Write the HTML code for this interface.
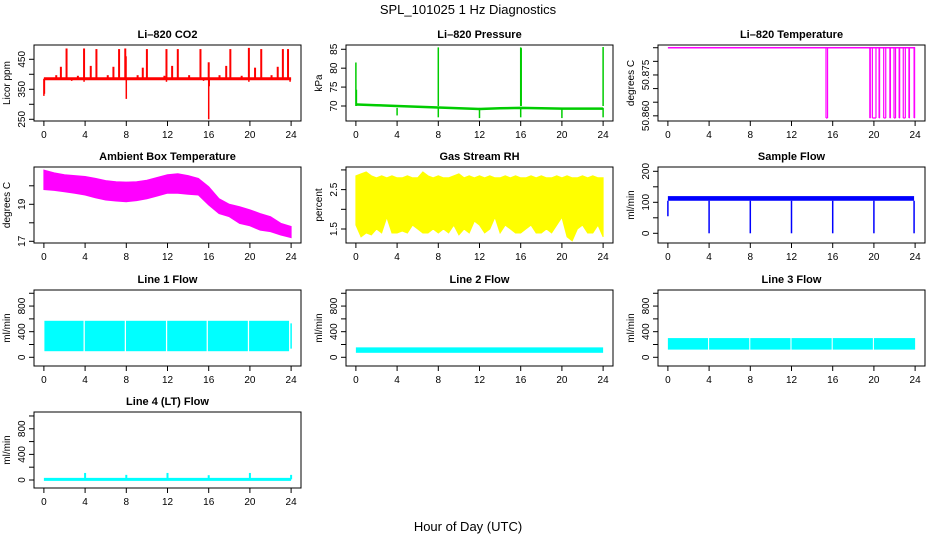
<!DOCTYPE html>
<html><head><meta charset="utf-8">
<style>
html,body{margin:0;padding:0;background:#fff;}
svg{display:block;font-family:"Liberation Sans",sans-serif;}
</style></head>
<body>
<svg id="chart" width="936" height="540" viewBox="0 0 936 540" xmlns="http://www.w3.org/2000/svg">
<text x="468" y="14" text-anchor="middle" font-size="13">SPL_101025  1 Hz Diagnostics</text>
<text x="468" y="531" text-anchor="middle" font-size="13">Hour of Day (UTC)</text>
</svg>
<script>
// ---- data ----
const hourTicks = [0,4,8,12,16,20,24];
const hours = [0,1,2,3,4,5,6,7,8,9,10,11,12,13,14,15,16,17,18,19,20,21,22,23,24];
// CO2
const co2Base = 385;
const co2SpikeHours = [2.2,3.9,5.1,7.3,7.9,10.0,11.9,13.0,15.2,18.1,19.9,21.1,23.2,23.7,1.65,4.55,6.75,9.6,12.45,17.7,20.5,22.7,1.2,3.3,6.2,9.1,11.7,14.1,17.05,19.2,22.1,16.0,7.95];
const co2SpikeVals  = [486,486,484,484,486,484,484,484,484,484,488,484,484,484,425,428,425,422,428,428,422,425,397,395,397,397,395,397,397,395,397,440,460];
const co2DipHours = [0,0.05,8.0,16.0,16.05,23.9,2.7,3.9,11.9,15.5,19.9];
const co2DipVals  = [328,335,318,250,360,375,378,375,375,378,375];
// Pressure
const presHours = [0,0.1,2,4,6,8,10,12,14,16,18,20,22,24];
const presBase  = [70.4,70.4,70.2,70.0,69.8,69.6,69.4,69.2,69.4,69.5,69.4,69.3,69.3,69.3];
const presSpikeHours = [0,0.05,8,16,16.05,24];
const presSpikeVals  = [81.5,74.3,85.5,85.5,85.3,85.6];
const presDipHours = [4,8,12,16,20,24];
const presDipVals  = [67.5,67.0,66.8,67.0,66.8,67.0];
// Li-820 temperature
const tempTop = 50.885;
const tempLow = 50.8592;
const tempDropStart = [15.35,19.6,19.85,20.5,20.95,21.55,21.95,22.45,22.85,23.4,23.9];
const tempDropEnd   = [15.5,19.65,20.2,20.55,21.15,21.6,22.1,22.5,23.05,23.45,23.95];
// Ambient box temperature
const ambHi = [20.85,20.7,20.6,20.55,20.5,20.4,20.28,20.22,20.2,20.22,20.3,20.45,20.6,20.65,20.55,20.4,19.95,19.3,19.0,18.87,18.7,18.5,18.33,17.97,17.8];
const ambLo = [19.8,19.75,19.68,19.6,19.5,19.35,19.23,19.18,19.14,19.2,19.3,19.45,19.6,19.6,19.54,19.5,18.96,18.5,18.33,17.97,17.84,17.6,17.52,17.34,17.2];
// Gas stream RH
const rhHours = [0,0.5,1,1.5,2,2.5,3,3.5,4,4.5,5,5.5,6,6.5,7,7.5,8,8.5,9,9.5,10,10.5,11,11.5,12,12.5,13,13.5,14,14.5,15,15.5,16,16.5,17,17.5,18,18.5,19,19.5,20,20.5,21,21.5,22,22.5,23,23.5,24];
const rhHi = [2.85,2.9,2.95,2.85,2.8,2.85,2.8,2.85,2.8,2.8,2.85,2.8,2.8,2.95,2.85,2.8,2.85,2.8,2.8,2.85,2.9,2.8,2.85,2.8,2.85,2.8,2.85,2.8,2.8,2.85,2.8,2.85,2.8,2.8,2.85,2.8,2.85,2.8,2.8,2.85,2.8,2.85,2.8,2.8,2.85,2.8,2.85,2.8,2.8];
const rhLo = [1.6,1.3,1.4,1.35,1.5,1.4,1.8,1.4,1.4,1.45,1.4,1.6,1.5,1.4,1.4,1.5,1.4,1.5,1.4,1.6,1.35,1.5,1.4,1.7,1.6,1.4,1.5,1.8,1.4,1.6,1.5,1.4,1.4,1.5,1.6,1.4,1.4,1.5,1.4,1.6,1.8,1.3,1.2,1.5,1.6,1.4,1.4,1.6,1.3];
// Sample flow
const sfHi = 120, sfLo = 105;
const sfDropHours = [0,4,8,12,16,20,23.9];
const sfDropVals  = [55,0,0,0,0,0,0];
// Line flows
const l1Hi = 570, l1Lo = 95, l1End = 530;
const l1GapHours = [3.85,7.85,11.85,15.8,19.8,23.8];
const l2Hi = 155, l2Lo = 70;
const l3Hi = 300, l3Lo = 120;
const l3GapHours = [3.9,7.9,11.9,15.9,19.9];
const l4Base = 10;
const l4SpikeHours = [4,8,12,16,20,24];
const l4SpikeVals  = [110,80,110,75,110,80];

// ---- layout ----
const NS = "http://www.w3.org/2000/svg";
const svg = document.getElementById('chart');
const colLeft = [34,346,658], rowTop = [45,167,290,412], PW = 267, PH = 76;
function mk(tag, attrs, parent){ const e=document.createElementNS(NS,tag); for(const k in attrs) e.setAttribute(k,attrs[k]); (parent||svg).appendChild(e); return e; }

function panel(name, title, col, row, ymin, ymax, yticks, ylabels, ytitle){
  const L=colLeft[col], T=rowTop[row];
  const g = mk('g',{});
  
  
  const xs = h => L + (h+0.96)/25.92*PW;
  const ys = v => T + PH - (v-ymin)/(ymax-ymin)*PH;
  const plot = mk('g',{},g);
  
  
  const frame = mk('rect',{x:L,y:T,width:PW,height:PH,fill:'none',stroke:'#000','stroke-width':1},g);
  
  
  const t = mk('text',{x:L+PW/2,y:T-7,'text-anchor':'middle','font-size':11,'font-weight':'bold'},g);
  t.textContent = title;
  
  
  // x axis
  const xa = mk('g',{stroke:'#000','stroke-width':1},g);
  
  
  mk('line',{x1:xs(0),x2:xs(24),y1:T+PH,y2:T+PH},xa);
  hourTicks.forEach(h=>{
    mk('line',{x1:xs(h),x2:xs(h),y1:T+PH,y2:T+PH+5},xa);
    const lt = mk('text',{x:xs(h),y:T+PH+17,'text-anchor':'middle','font-size':10,stroke:'none',fill:'#000'},xa);
    lt.textContent = h;
  });
  // y axis
  const ya = mk('g',{stroke:'#000','stroke-width':1},g);
  
  
  mk('line',{x1:L,x2:L,y1:ys(yticks[0]),y2:ys(yticks[yticks.length-1])},ya);
  yticks.forEach(v=>mk('line',{x1:L-5,x2:L,y1:ys(v),y2:ys(v)},ya));
  ylabels.forEach(v=>{
    const lt = mk('text',{x:0,y:0,'text-anchor':'middle','font-size':10,stroke:'none',fill:'#000',transform:`translate(${L-9},${ys(v)}) rotate(-90)`},ya);
    lt.textContent = v;
  });
  const yt = mk('text',{x:0,y:0,'text-anchor':'middle','font-size':10,transform:`translate(${L-24},${T+PH/2}) rotate(-90)`},g);
  yt.textContent = ytitle;
  
  
  return {xs, ys, plot};
}
function vline(p, h, v1, v2, color, w){
  return mk('line',{x1:p.xs(h),x2:p.xs(h),y1:p.ys(v1),y2:p.ys(v2),stroke:color,'stroke-width':w||1.5},p.plot);
}
function band(p, hs, hi, lo, color){
  let pts=[];
  for(let i=0;i<hs.length;i++) pts.push(p.xs(hs[i])+','+p.ys(hi[i]));
  for(let i=hs.length-1;i>=0;i--) pts.push(p.xs(hs[i])+','+p.ys(lo[i]));
  return mk('polygon',{points:pts.join(' '),fill:color,stroke:color,'stroke-width':1},p.plot);
}
function rectBand(p, h1, h2, hi, lo, color){
  return mk('rect',{x:p.xs(h1),y:p.ys(hi),width:p.xs(h2)-p.xs(h1),height:p.ys(lo)-p.ys(hi),fill:color},p.plot);
}

// CO2
let p = panel('co2','Li\u2013820 CO2',0,0,244.3,497.6,[250,300,350,400,450],[250,350,450],'Licor ppm');
mk('line',{x1:p.xs(0),x2:p.xs(24),y1:p.ys(co2Base),y2:p.ys(co2Base),stroke:'#ff0000','stroke-width':3},p.plot);
co2SpikeHours.forEach((h,i)=>vline(p,h,co2Base,co2SpikeVals[i],'#ff0000',2));
co2DipHours.forEach((h,i)=>vline(p,h,co2Base,co2DipVals[i],'#ff0000',1.5));

// Pressure
p = panel('pressure','Li\u2013820 Pressure',1,0,66.03,86.13,[70,75,80,85],[70,75,80,85],'kPa');
mk('polyline',{points:presHours.map((h,i)=>p.xs(h)+','+p.ys(presBase[i])).join(' '),fill:'none',stroke:'#00cc00','stroke-width':2.5},p.plot);
presSpikeHours.forEach((h,i)=>vline(p,h,70,presSpikeVals[i],'#00cc00',1.5));
presDipHours.forEach((h,i)=>vline(p,h,69.5,presDipVals[i],'#00cc00',1.5));

// Li-820 temperature
p = panel('li820-temp','Li\u2013820 Temperature',2,0,50.8581,50.8860,[50.860,50.865,50.870,50.875,50.880,50.885],['50.860','50.875'],'degrees C');
mk('line',{x1:p.xs(0),x2:p.xs(24),y1:p.ys(tempTop),y2:p.ys(tempTop),stroke:'#ff00ff','stroke-width':1.5},p.plot);
tempDropStart.forEach((h,i)=>{
  vline(p,h,tempTop,tempLow,'#ff00ff',1.2);
  vline(p,tempDropEnd[i],tempTop,tempLow,'#ff00ff',1.2);
  mk('line',{x1:p.xs(h),x2:p.xs(tempDropEnd[i]),y1:p.ys(tempLow),y2:p.ys(tempLow),stroke:'#ff00ff','stroke-width':1.2},p.plot);
});

// Ambient box temperature
p = panel('ambient-temp','Ambient Box Temperature',0,1,16.908,21.016,[17,18,19,20],[17,19],'degrees C');
band(p,hours,ambHi,ambLo,'#ff00ff');

// Gas stream RH
p = panel('gas-rh','Gas Stream RH',1,1,1.145,3.074,[1.5,2.0,2.5,3.0],[1.5,2.5],'percent');
band(p,rhHours,rhHi,rhLo,'#ffff00');

// Sample flow
p = panel('sample-flow','Sample Flow',2,1,-31.3,213.9,[0,50,100,150,200],[0,100,200],'ml/min');
rectBand(p,0,23.9,sfHi,sfLo,'#0000ff');
sfDropHours.forEach((h,i)=>vline(p,h,sfLo,sfDropVals[i],'#0000ff',1.5));

// Line 1 flow
const lt = [0,200,400,600,800,1000], ll=[0,400,800];
p = panel('line1-flow','Line 1 Flow',0,2,-136,1051,lt,ll,'ml/min');
rectBand(p,0.05,23.85,l1Hi,l1Lo,'#00ffff');
l1GapHours.forEach(h=>rectBand(p,h,h+0.12,l1Hi+5,l1Lo-5,'#ffffff'));
vline(p,24,l1End,l1Lo+40,'#00ffff',1.5);

// Line 2 flow
p = panel('line2-flow','Line 2 Flow',1,2,-136,1051,lt,ll,'ml/min');
rectBand(p,0,24,l2Hi,l2Lo,'#00ffff');

// Line 3 flow
p = panel('line3-flow','Line 3 Flow',2,2,-136,1051,lt,ll,'ml/min');
rectBand(p,0,24,l3Hi,l3Lo,'#00ffff');
l3GapHours.forEach(h=>rectBand(p,h,h+0.1,l3Hi+5,l3Lo-5,'#ffffff'));

// Line 4 flow
p = panel('line4-flow','Line 4 (LT) Flow',0,3,-125,1062,lt,ll,'ml/min');
mk('line',{x1:p.xs(0),x2:p.xs(24),y1:p.ys(l4Base),y2:p.ys(l4Base),stroke:'#00ffff','stroke-width':3},p.plot);
l4SpikeHours.forEach((h,i)=>vline(p,h,l4Base,l4SpikeVals[i],'#00ffff',2));
</script>
</body></html>
